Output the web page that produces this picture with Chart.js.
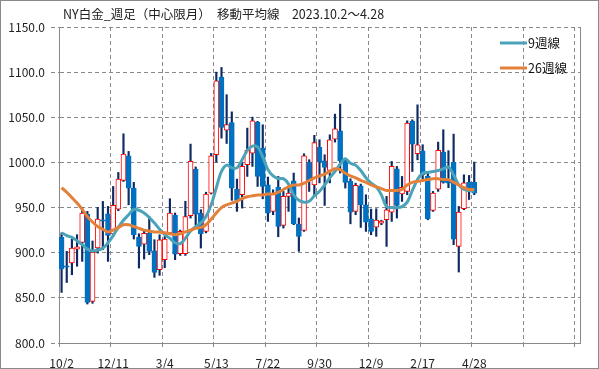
<!DOCTYPE html>
<html>
<head>
<meta charset="utf-8">
<script src="https://cdn.jsdelivr.net/npm/chart.js@4"></script>
<style>
  html, body { margin: 0; padding: 0; background: #fff; }
  #wrap { width: 599px; height: 369px; position: relative; }
</style>
</head>
<body>
<div id="wrap"><canvas id="chart"></canvas></div>
<script>
const titleText = 'NY白金_週足（中心限月）　移動平均線　2023.10.2～4.28';
const xTickLabels = ['10/2', '12/11', '3/4', '5/13', '7/22', '9/30', '12/9', '2/17', '4/28', '', ''];
const seriesNames = ['9週線', '26週線'];

// weekly candles, 81 weeks
const openP = [
  917, 885.6, 888.6, 904, 911.4, 942.8, 846, 905.2, 936.5, 943.2,
  920.7, 948.3, 980.1, 1007.4, 971.6, 917.3, 909.5, 921.8, 902.2, 881.2,
  892.3, 921.8, 941.3, 898.9, 899, 941, 992.6, 943.9, 923.6, 966,
  1008.5, 1094.5, 1035.6, 1044, 970.5, 964.2, 997.4, 1010.3, 1044.7, 1015.9,
  975.3, 945.8, 972.3, 930.3, 962.4, 979.7, 931.7, 924.7, 1000.4, 975,
  1016.6, 1001.8, 991.1, 1025.8, 1035.1, 1001.8, 979, 945.8, 974.2, 953.1,
  937.6, 928.4, 932.8, 936.5, 945, 993, 965, 967.9, 1045.4, 1009.6,
  1012.9, 984.5, 946.9, 970.5, 1011.4, 981, 1000, 907, 948.7, 977.9,
  977.9
];
const highP = [
  922, 901.5, 915, 920, 950, 945.8, 913, 950.2, 956.8, 951.3,
  973.4, 988.9, 1031.7, 1012.2, 977.9, 921, 925, 940.2, 914.4, 919.9,
  918, 959.8, 944, 925, 957, 1020.3, 995, 947.6, 967, 1010,
  1100, 1105.2, 1075, 1056, 981.5, 1000.4, 1038, 1050.2, 1045.5, 1041.7,
  983.8, 969.7, 984.5, 967.9, 972.3, 988.2, 938.4, 1009.6, 1003, 1030,
  1025.1, 1008.5, 1030.6, 1053.5, 1064.6, 1003, 981.9, 977, 976, 964.2,
  948.3, 948.7, 936, 962.4, 1001.1, 995.6, 984.5, 1046.1, 1047.2, 1063.8,
  1019.6, 988.2, 967.9, 1022.5, 1036.2, 1013, 1031.4, 951.3, 986.3, 985.6,
  1000.4
];
const lowP = [
  856, 867, 875.6, 885, 890.4, 843.2, 844, 899.6, 903.3, 890.4,
  918, 946.5, 978.9, 953.1, 915.1, 883, 893, 897.8, 872.7, 874.9,
  883.3, 920, 892.3, 897, 897, 938.4, 931, 905.2, 922, 965,
  1000.4, 1026.9, 1021, 958, 945.8, 949.4, 984.5, 995.6, 973.4, 959.7,
  934.7, 942.1, 917.7, 927.3, 945.8, 931, 901.5, 923.6, 967.9, 964,
  977.3, 952.4, 977.3, 1022.5, 988.2, 971.6, 932, 942.1, 928, 923.6,
  919.9, 918.1, 931, 907, 934.7, 938.4, 956.8, 964.2, 990, 1002.9,
  979, 936.5, 945.8, 967.9, 977, 972, 908.9, 878.6, 947.6, 958.9,
  964.2
];
const closeP = [
  882, 884, 905.2, 906.6, 943.9, 845, 900.4, 937.3, 935, 919.2,
  952.4, 981.5, 1009.2, 971.6, 919.9, 907, 921.5, 901.5, 878.2, 914.4,
  915.1, 943.9, 898.5, 923.6, 940, 1001.1, 942.8, 920.7, 965, 1007.4,
  1090.4, 1038.7, 1042, 971.5, 957.9, 995.6, 1013.3, 1046.1, 984.5, 973.4,
  943.8, 965, 929.2, 962.4, 966, 932, 918.1, 1007.4, 979.7, 1022,
  1000.4, 994.5, 1025.1, 1037.3, 1001.8, 977.9, 945, 974.5, 953.1, 933.9,
  923.6, 936.2, 935.1, 947.6, 995.6, 952.4, 972.3, 1043.5, 1020.3, 1019.6,
  986.3, 937.6, 966, 1013.3, 977.9, 977, 915.1, 945, 977.3, 967.9,
  966
];

// moving averages
const ma9 = [
  922, 919, 917, 913, 909, 904, 902, 903, 905, 911,
  919, 928, 936, 942, 948, 947, 944, 939, 933, 926,
  920, 916, 911, 910, 916, 924, 929, 933, 940, 953,
  972, 990, 997, 994, 994, 1003, 1013, 1018, 1017, 1006,
  992, 985, 982, 982, 976, 964, 958, 956, 957, 963,
  968, 975, 983, 990, 998, 1004, 999, 997, 991, 983,
  977, 973, 964, 951, 950, 950, 951, 956, 969, 981,
  988, 989, 990, 991, 993, 995, 986, 975, 970, 969,
  968
];
const ma26 = [
  972, 967, 961, 955, 948, 940, 934, 929, 926, 923,
  925, 928, 931, 931, 929, 927, 925, 924, 923, 923,
  922, 921, 920, 921, 923, 925, 927, 928, 931, 937,
  944, 950, 953, 955, 957, 960, 962, 963, 964, 964,
  965, 965, 967, 970, 973, 975, 975, 977, 980, 983,
  985, 987, 990, 993, 992, 988, 985, 983, 980, 978,
  975, 973, 971, 969, 969, 969, 970, 975, 978, 979,
  980, 981, 982, 982, 981, 981, 978, 975, 972, 970,
  970
];

const upColor = '#ff0000';
const downColor = '#0070c0';
const wickColor = '#0d2a63';
const ma9Color = '#4aa3b9';
const ma26Color = '#e3813b';
const gridColor = '#8a8a8a';
const fontFamily = "'Noto Sans CJK JP', 'Noto Sans', sans-serif";

const isUp = i => closeP[i] >= openP[i];

const wicks = highP.map((h, i) => ({ x: i, y: [lowP[i], h] }));
const bodies = openP.map((o, i) => ({ x: i, y: [o, closeP[i]] }));
const ma9Pts = ma9.map((v, i) => ({ x: i, y: v }));
const ma26Pts = ma26.map((v, i) => ({ x: i, y: v }));

// title, legend, frame
const decor = {
  id: 'decor',
  afterDraw(chart) {
    const { ctx, chartArea } = chart;
    ctx.save();
    ctx.strokeStyle = gridColor;
    ctx.lineWidth = 1;
    const rx = Math.round(chartArea.right) + 0.5;
    ctx.beginPath();
    ctx.moveTo(rx, chartArea.top);
    ctx.lineTo(rx, chartArea.bottom);
    ctx.stroke();
    ctx.strokeRect(0.5, 0.5, chart.width - 1, chart.height - 1);

    ctx.fillStyle = '#222';
    ctx.font = '12.5px ' + fontFamily;
    ctx.textBaseline = 'middle';
    ctx.textAlign = 'left';
    ctx.fillText(titleText, 63, 14);

    const legendRows = [[seriesNames[0], ma9Color, 43], [seriesNames[1], ma26Color, 68]];
    legendRows.forEach(([name, col, y]) => {
      ctx.strokeStyle = col;
      ctx.lineWidth = 3;
      ctx.beginPath();
      ctx.moveTo(500, y);
      ctx.lineTo(527, y);
      ctx.stroke();
      ctx.fillStyle = '#111';
      ctx.fillText(name, 528, y);
    });
    ctx.restore();
  }
};

new Chart(document.getElementById('chart'), {
  type: 'bar',
  data: {
    datasets: [
      {
        type: 'line', label: seriesNames[1], data: ma26Pts, order: 0,
        borderColor: ma26Color, borderWidth: 3, pointRadius: 0, tension: 0.35, fill: false
      },
      {
        type: 'line', label: seriesNames[0], data: ma9Pts, order: 1,
        borderColor: ma9Color, borderWidth: 3, pointRadius: 0, tension: 0.35, fill: false
      },
      {
        label: 'body', data: bodies, order: 2, grouped: false, barThickness: 5,
        backgroundColor: c => isUp(c.dataIndex) ? '#ffffff' : downColor,
        borderColor: c => isUp(c.dataIndex) ? upColor : downColor,
        borderWidth: 1, borderSkipped: false
      },
      {
        label: 'wick', data: wicks, order: 3, grouped: false, barThickness: 1.5,
        backgroundColor: wickColor, borderWidth: 0
      }
    ]
  },
  options: {
    responsive: true,
    maintainAspectRatio: false,
    animation: false,
    layout: { padding: { top: 27, right: 19, bottom: 0, left: 0 } },
    plugins: {
      legend: { display: false },
      title: { display: false },
      tooltip: { enabled: false }
    },
    scales: {
      x: {
        type: 'linear',
        min: -0.5,
        max: 100.5,
        offset: false,
        afterBuildTicks: scale => {
          scale.ticks = xTickLabels.map((l, k) => ({ value: -0.5 + 10 * k }));
        },
        afterFit: scale => { scale.height = 26; },
        ticks: {
          autoSkip: false,
          maxRotation: 0,
          labelOffset: 2.6,
          padding: 9,
          color: '#222',
          font: { family: fontFamily, size: 12 },
          callback: (v, i) => xTickLabels[i]
        },
        grid: {
          offset: false,
          color: gridColor, lineWidth: 1, tickLength: 4,
          tickColor: gridColor, tickBorderDash: [4, 3]
        },
        border: { color: gridColor, width: 1, dash: [4, 3] }
      },
      y: {
        min: 800,
        max: 1150,
        afterFit: scale => { scale.width = 59; },
        ticks: {
          stepSize: 50,
          padding: 6,
          color: '#222',
          font: { family: fontFamily, size: 12 },
          callback: v => v.toFixed(1)
        },
        grid: {
          color: gridColor, lineWidth: 1, tickLength: 8,
          tickColor: gridColor, tickBorderDash: [4, 3]
        },
        border: { color: gridColor, width: 1, dash: [4, 3] }
      }
    }
  },
  plugins: [decor]
});
</script>
</body>
</html>
